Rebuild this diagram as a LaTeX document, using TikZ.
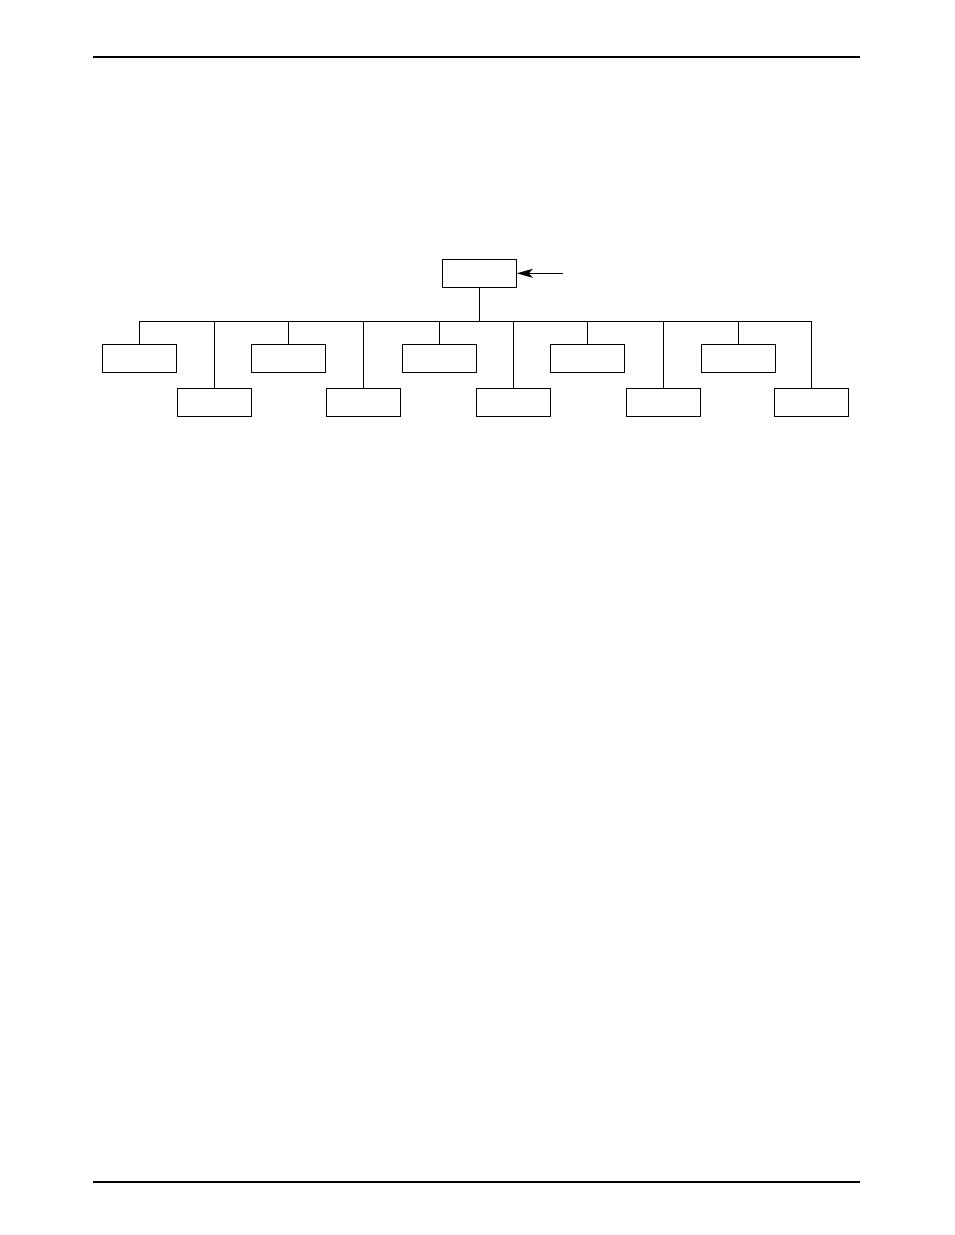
\documentclass[tikz,border=0pt]{standalone}
\usetikzlibrary{arrows.meta}
\begin{document}
\begin{tikzpicture}[x=1pt,y=-1pt,
  blk/.style={draw,line width=1pt,minimum width=74pt,minimum height=28pt,inner sep=0pt},
  wire/.style={line width=1pt},
  rule/.style={line width=1.3pt}]
\useasboundingbox (0,0) rectangle (954,1235);
\draw[rule] (93,57) -- (860,57);
\draw[rule] (93,1182) -- (860,1182);
% boxes
\node[blk] (root) at (479.3,273.3) {};
\coordinate (src) at (563,273.3);
\coordinate (bus) at (479.3,321);
\node[blk] (u1) at (139.8,358.3) {};
\node[blk] (u2) at (288.2,358.3) {};
\node[blk] (u3) at (439,358.3) {};
\node[blk] (u4) at (587.7,358.3) {};
\node[blk] (u5) at (738,358.3) {};
\node[blk] (l1) at (214.5,402.2) {};
\node[blk] (l2) at (363.7,402.2) {};
\node[blk] (l3) at (513,402.2) {};
\node[blk] (l4) at (663.8,402.2) {};
\node[blk] (l5) at (811.5,402.2) {};
% connectors
\draw[wire,-{Stealth[length=16pt,width=9pt,inset=4pt]}] (src) -- (root.east);
\draw[wire] (root.south) -- (bus);
\draw[wire] (u1.north |- bus) -- (l5.north |- bus);
\foreach \n in {u1,u2,u3,u4,u5,l1,l2,l3,l4,l5}
  \draw[wire] (\n.north |- bus) -- (\n.north);
\end{tikzpicture}
\end{document}
